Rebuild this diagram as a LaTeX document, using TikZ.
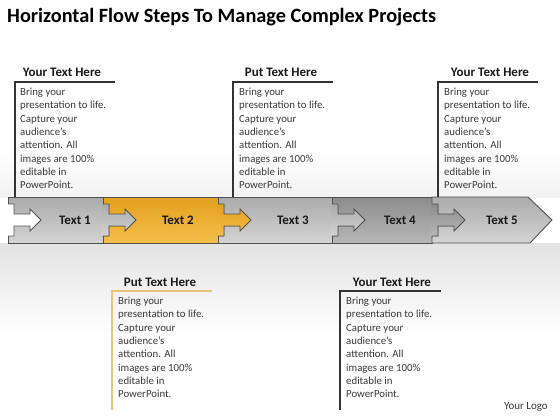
\documentclass[tikz,border=0pt]{standalone}
\usepackage{fontspec}
\setmainfont{Carlito}
\definecolor{txtdark}{HTML}{3A3A3A}
\definecolor{edge}{HTML}{505050}
\definecolor{orgtop}{HTML}{E3A020}
\definecolor{orgbot}{HTML}{F4BE48}
\definecolor{orgline}{HTML}{E9C27A}
\begin{document}
\begin{tikzpicture}[x=1pt,y=-1pt,
  heading/.style={font=\fontsize{13}{15}\selectfont\bfseries, text=black!90, inner sep=0pt},
  bodytext/.style={font=\fontsize{10.8}{13.3}\selectfont, text=txtdark, align=left, anchor=north west, inner sep=0pt},
  boxline/.style={draw=black!80, line width=1.3pt},
  orgboxline/.style={draw=orgline, line width=1.3pt},
  steplabel/.style={font=\fontsize{13}{15}\selectfont\bfseries, text=black!90, inner sep=0pt},
  segedge/.style={draw=edge, line width=0.9pt, line join=miter},
  graypart/.style={top color=black!33, bottom color=black!17},
  darkpart/.style={top color=black!45, bottom color=black!28},
  orangepart/.style={top color=orgtop, bottom color=orgbot},
  whitepart/.style={fill=white}
]
\useasboundingbox (0,0) rectangle (560,420);
\fill[white] (0,0) rectangle (560,420);
\shade[top color=black!11, bottom color=white] (0,243) rectangle (560,335);
\shade[top color=white, bottom color=black!5] (0,150) rectangle (560,197);

% title
\node[anchor=west, font=\fontsize{20.3}{23}\selectfont\bfseries, inner sep=0pt] (title) at (7,17) {Horizontal Flow Steps To Manage Complex Projects};

% segments
\path[segedge, graypart] (8,197) rectangle (103,243);
\path[segedge, orangepart] (103,197) rectangle (218,243);
\path[segedge, graypart] (218,197) rectangle (332,243);
\path[segedge, darkpart] (332,197) rectangle (432,243);
\path[segedge, graypart] (432,197) -- (528,197) -- (552,220) -- (530,243) -- (432,243) -- cycle;

% tabs (arrow connectors)
\newcommand{\tabshape}[2]{%
  \fill[#2] (#1-1,204) -- (#1+6,204) -- (#1+6,214) -- (#1+22,214) -- (#1+22,209) -- (#1+33,220) -- (#1+22,231) -- (#1+22,226) -- (#1+6,226) -- (#1+6,236) -- (#1-1,236) -- cycle;
  \draw[segedge] (#1,204) -- (#1+6,204) -- (#1+6,214) -- (#1+22,214) -- (#1+22,209) -- (#1+33,220) -- (#1+22,231) -- (#1+22,226) -- (#1+6,226) -- (#1+6,236) -- (#1,236);
}
\fill[white] (7,204.5) rectangle (9,235.5);
\tabshape{8}{whitepart}
\tabshape{103}{graypart}
\tabshape{218}{orangepart}
\tabshape{332}{graypart}
\tabshape{432}{darkpart}

% step labels
\node[steplabel] (s1) at (75,220) {Text 1};
\node[steplabel] (s2) at (178,220) {Text 2};
\node[steplabel] (s3) at (293,220) {Text 3};
\node[steplabel] (s4) at (400,220) {Text 4};
\node[steplabel] (s5) at (502,220) {Text 5};

% top boxes
\node[heading] (h1) at (62,72) {Your Text Here};
\draw[boxline] (115,82) -- (15,82) -- (15,197);
\node[bodytext] (b1) at (20,88) {Bring your\\presentation to life.\\Capture your\\audience’s\\attention. All\\images are 100\%\\editable in\\PowerPoint.};

\node[heading] (h2) at (281,72) {Put Text Here};
\draw[boxline] (333,82) -- (233,82) -- (233,197);
\node[bodytext] (b2) at (239,88) {Bring your\\presentation to life.\\Capture your\\audience’s\\attention. All\\images are 100\%\\editable in\\PowerPoint.};

\node[heading] (h3) at (490,72) {Your Text Here};
\draw[boxline] (538,82) -- (438,82) -- (438,197);
\node[bodytext] (b3) at (444,88) {Bring your\\presentation to life.\\Capture your\\audience’s\\attention. All\\images are 100\%\\editable in\\PowerPoint.};

% bottom boxes
\node[heading] (h4) at (160,282) {Put Text Here};
\draw[orgboxline] (212,291) -- (112,291) -- (112,410);
\node[bodytext] (b4) at (118,297) {Bring your\\presentation to life.\\Capture your\\audience’s\\attention. All\\images are 100\%\\editable in\\PowerPoint.};

\node[heading] (h5) at (392,282) {Your Text Here};
\draw[boxline] (441,291) -- (340,291) -- (340,410);
\node[bodytext] (b5) at (346,297) {Bring your\\presentation to life.\\Capture your\\audience’s\\attention. All\\images are 100\%\\editable in\\PowerPoint.};

\node[font=\fontsize{11}{13}\selectfont, text=txtdark, anchor=east, inner sep=0pt] (logo) at (548,407) {Your Logo};
\end{tikzpicture}
\end{document}
